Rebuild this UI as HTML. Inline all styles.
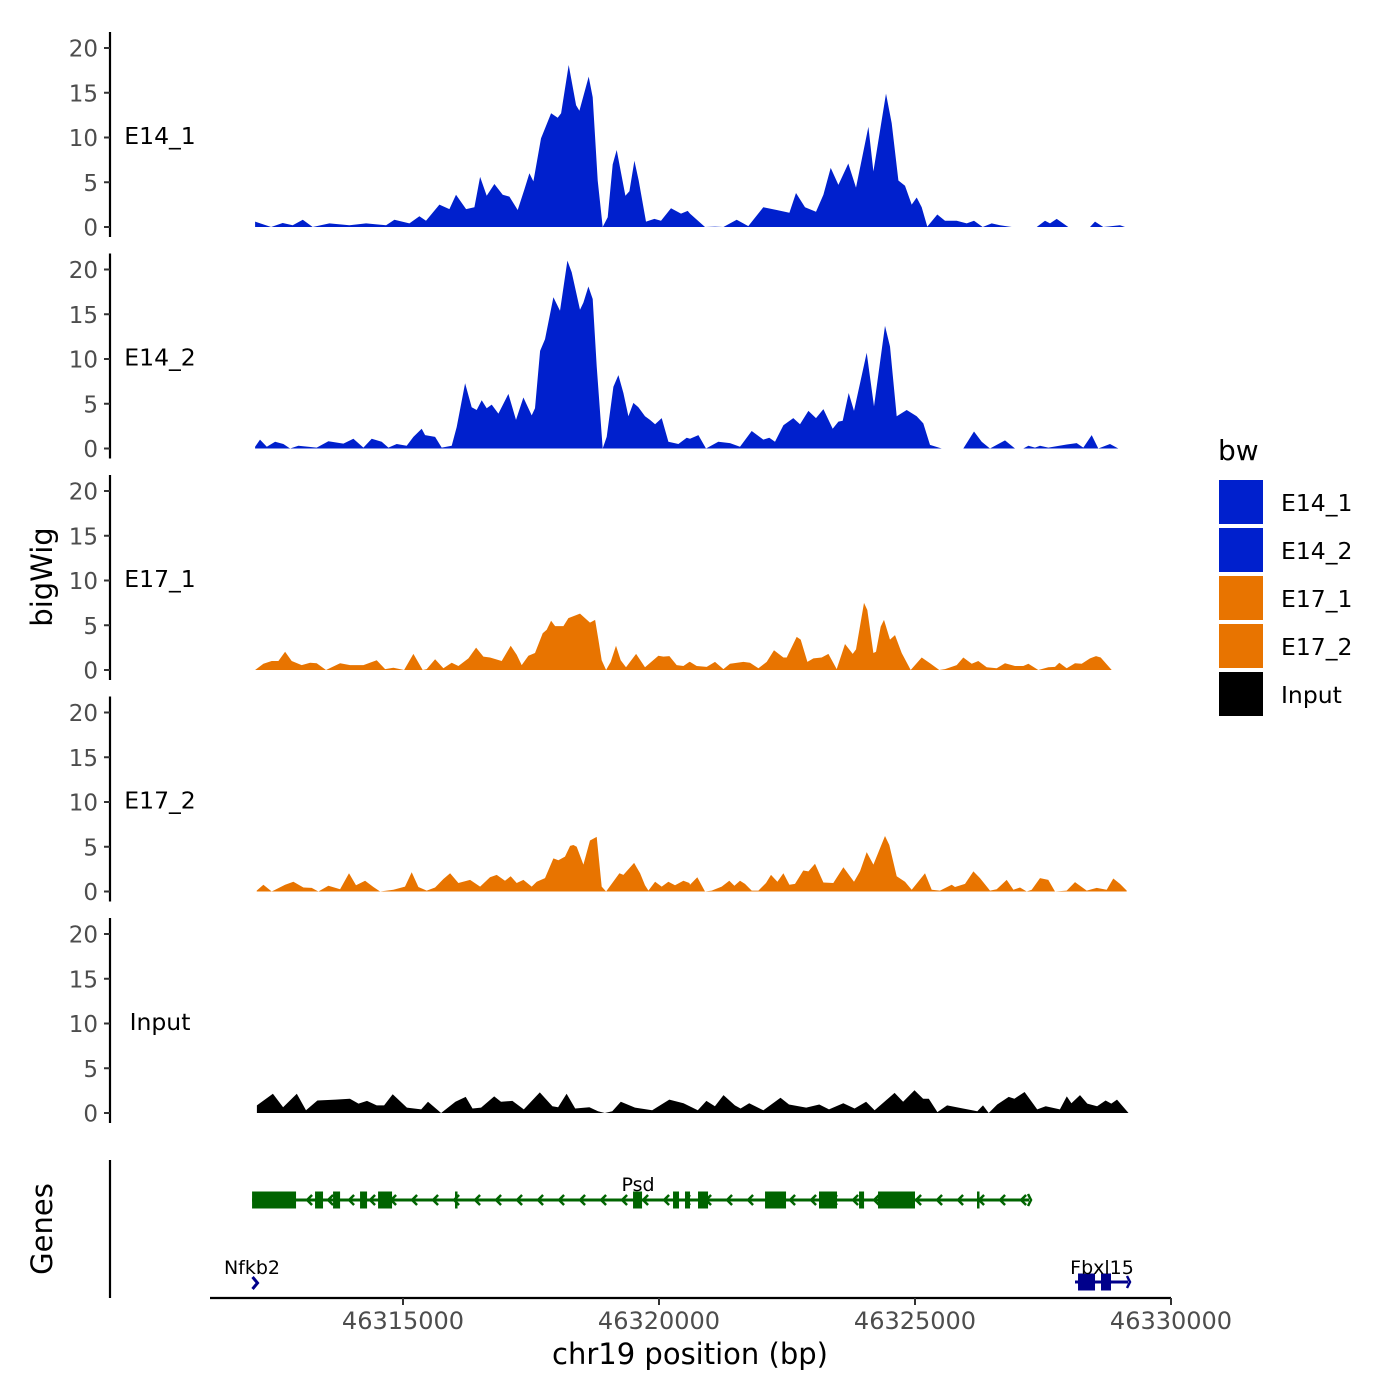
<!DOCTYPE html>
<html><head><meta charset="utf-8"><title>bigWig tracks chr19</title>
<style>
html,body{margin:0;padding:0;background:#fff;}
svg{display:block;font-family:"DejaVu Sans","Liberation Sans",sans-serif;}
</style></head>
<body>
<svg id="chart" width="1400" height="1400" viewBox="0 0 1400 1400" xmlns="http://www.w3.org/2000/svg">
<rect x="0" y="0" width="1400" height="1400" fill="#fff"/>
<g id="tracks"></g>
<g id="genes"></g>
<g id="xaxis"></g>
<text x="0" y="0" transform="translate(52,577) rotate(-90)" text-anchor="middle" font-size="29" fill="#000">bigWig</text>
<text x="0" y="0" transform="translate(52,1229) rotate(-90)" text-anchor="middle" font-size="29" fill="#000">Genes</text>
<text x="690" y="1364" text-anchor="middle" font-size="29" fill="#000">chr19 position (bp)</text>
<g id="legend"></g>
</svg>
<script>
// ---- data ----
const REGION_START = 46312000;
const trackNames = ["E14_1","E14_2","E17_1","E17_2","Input"];
const trackColors = ["#0020CD","#0020CD","#E87400","#E87400","#000000"];
const yTicks = [0,5,10,15,20];
const xTicks = [46315000,46320000,46325000,46330000];

const posE14_1 = [111,423,651,846,1042,1237,1562,1953,2279,2669,2832,3125,3320,3450,3711,3906,4036,4232,4394,4505,4635,4785,4948,5078,5241,5371,5468,5547,5696,5892,6022,6087,6237,6380,6445,6627,6705,6803,6901,6998,7096,7174,7343,7421,7519,7604,7747,7910,8040,8235,8430,8561,
8606,8899,9094,9257,9517,9745,10038,10299,10546,10676,10852,11067,11210,11353,11503,11698,11848,12089,12187,12434,12545,12675,12805,12935,13033,13130,13241,13436,13586,13814,14009,14153,14322,14498,14660,14888,15376,15539,15637,15767,15995,16418,16516,16678,17004,17102];
const valE14_1 = [0.6,0,0.45,0.2,0.8,0,0.4,0.2,0.4,0.2,0.8,0.4,1.2,0.7,2.5,2.0,3.6,2.0,2.2,5.6,3.5,4.8,3.6,3.4,1.9,4.2,6.0,5.1,9.9,12.7,12.2,12.7,18.1,13.6,13.0,16.8,14.5,5.2,0,1.1,7.0,8.6,3.5,4.0,7.4,5.2,0.6,0.9,0.7,2.1,1.5,1.8,
1.5,0,0.05,0,0.8,0.1,2.2,1.9,1.6,3.8,2.2,1.7,3.6,6.6,4.7,7.1,4.4,11.2,6.2,14.9,11.6,5.2,4.6,2.5,3.3,2.2,0.05,1.4,0.7,0.7,0.4,0.7,0,0.4,0.2,0,0,0.7,0.4,0.9,0,0,0.6,0,0.2,0];

const posE14_2 = [111,208,339,501,664,794,957,1315,1543,1836,2031,2226,2389,2584,2715,2877,3073,3203,3366,3431,3626,3756,3952,4049,4212,4342,4440,4537,4635,4733,4863,5058,5208,5351,5514,5579,5677,5774,5937,6067,6211,6295,6458,6523,6621,6705,6783,6901,6979,7109,7207,7304,7402,7500,7597,7727,7825,7923,8053,8183,8378,8541,
8606,8769,8918,9159,9387,9583,9810,10038,10155,10266,10429,10624,10754,10917,11067,11210,11392,11503,11588,11705,11809,12056,12200,12414,12512,12642,12838,13033,13163,13293,13521,13944,14153,14303,14465,14758,14953,15116,15214,15344,15442,15604,15962,16158,16288,16451,16581,16809,16971];
const valE14_2 = [0.2,1.0,0.2,0.75,0.5,0,0.3,0.1,0.8,0.55,1.1,0.1,1.1,0.75,0.1,0.5,0.3,1.3,2.2,1.5,1.3,0.1,0.3,2.4,7.3,4.6,4.3,5.4,4.5,4.9,3.9,6.1,3.2,5.7,3.7,4.5,10.9,12.2,16.9,15.4,21.0,19.7,15.5,16.3,18.1,16.7,9.2,0,1.3,6.9,8.2,6.2,3.6,5.1,4.6,3.6,3.2,2.7,3.4,0.75,0.5,1.2,
1.1,1.5,0,0.75,0.6,0.2,1.95,1.0,1.2,0.75,2.6,3.4,2.7,4.2,3.4,4.4,2.2,3.0,3.1,6.2,4.2,10.7,4.7,13.7,11.4,3.6,4.3,3.6,2.8,0.4,0,0,1.9,0.75,0,0.9,0,0,0.3,0.1,0.3,0.1,0.45,0.6,0.1,1.5,0,0.5,0];

const posE17_1 = [111,273,436,566,697,827,1022,1185,1315,1497,1771,1966,2226,2487,2650,2812,3021,3203,3385,3463,3626,3789,3952,4082,4277,4427,4570,4700,4928,5104,5221,5319,5449,5579,5729,5807,5892,5970,6132,6230,6458,6653,6751,6816,6881,6966,7057,7161,7252,7356,7552,7727,7988,8085,8203,8346,8476,8593,
8606,8736,8932,9094,9257,9387,9648,9778,9941,10103,10247,10429,10494,10689,10767,10898,11015,11177,11308,11470,11633,11783,11848,12004,12069,12187,12239,12330,12395,12512,12610,12740,12916,13130,13293,13475,13586,13814,13944,14107,14237,14400,14595,14758,14953,15116,15214,15409,15604,15734,15819,15962,16125,16255,16418,16535,16626,16841];
const valE17_1 = [0,0.7,1.0,1.0,2.05,1.0,0.55,0.8,0.75,0,0.75,0.55,0.55,1.1,0.1,0.25,0,1.8,0,0.1,1.2,0.2,0.8,0.45,1.3,2.5,1.5,1.4,1.0,2.7,1.7,0.55,1.6,1.9,4.1,4.5,5.5,4.9,4.9,5.8,6.3,5.3,5.6,3.4,1.1,0,0.9,2.7,1.1,0.3,1.8,0.3,1.6,1.5,1.55,0.55,0.45,0.9,
0.9,0.45,0.35,0.9,0.1,0.7,0.9,0.8,0.2,0.9,2.2,1.4,1.4,3.7,3.4,0.9,1.3,1.4,1.8,0.1,2.9,1.8,2.3,7.5,6.7,1.9,2.05,4.85,5.6,3.4,3.9,1.9,0,1.4,0.75,0,0.1,0.55,1.4,0.7,1.0,0.3,0.2,0.75,0.45,0.45,0.7,0,0.3,0.35,0.8,0.2,0.75,0.7,1.3,1.55,1.4,0];

const posE17_2 = [143,273,436,697,859,1055,1217,1348,1543,1771,1946,2083,2259,2422,2552,2812,3040,3170,3301,3463,3626,3789,3919,4082,4310,4505,4700,4830,4993,5104,5221,5351,5514,5612,5774,5937,6035,6165,6263,6328,6393,6523,6653,6783,6881,6966,7226,7304,7513,7630,7727,7792,7923,8053,8183,8313,8476,8593,
8606,8749,8899,9029,9224,9374,9472,9583,9680,9810,9941,10090,10188,10312,10429,10546,10657,10819,10917,11047,11210,11405,11601,11809,11926,12056,12187,12414,12499,12642,12805,12935,13196,13326,13489,13716,13781,13977,14140,14270,14465,14595,14791,14921,15051,15181,15279,15442,15604,15734,15962,16125,16353,16548,16744,16874,17004,17134];
const valE17_2 = [0.1,0.75,0,0.75,1.1,0.45,0.4,0,0.65,0.25,2.05,0.7,1.2,0.5,0,0.2,0.55,2.15,0.5,0.1,0.45,1.4,2.05,0.95,1.3,0.55,1.6,1.85,1.2,1.7,0.95,1.3,0.55,1.1,1.5,3.7,3.5,3.9,5.1,5.2,5.0,3.0,5.7,6.1,0.55,0,2.05,1.85,3.2,2.05,0.7,0.1,1.1,0.55,1.1,0.7,1.2,0.95,
0.75,1.6,0,0.1,0.55,1.2,0.65,1.2,0.85,0.1,0.1,0.95,1.85,1.1,2.05,0.75,0.85,2.35,2.25,3.1,1.0,0.95,2.7,1.1,2.25,4.4,3.0,6.2,5.2,1.7,1.1,0.2,2.05,0.2,0.1,0.75,0.5,0.85,2.25,1.5,0.1,0.25,1.3,0.2,0.45,0,0.2,1.5,1.3,0,0.1,1.05,0.1,0.4,0.2,1.45,0.85,0.1];

const posInput = [147,459,659,926,1105,1328,1684,1963,2130,2297,2486,2631,2798,3077,3355,3489,3745,4023,4224,4358,4525,4781,4915,5137,5360,5672,5917,6029,6196,6363,6641,6808,6942,7087,7254,7532,7867,8201,8479,8758,8925,9092,9259,9482,9593,9761,10039,10373,10540,10875,11130,11320,11599,11821,12044,12211,12601,12768,12991,13158,13270,13437,13626,13938,14216,14328,14439,14606,14830,14941,15141,15386,15553,15831,15965,16054,16222,16366,16556,16723,16834,16946,17169];
const valInput = [0.85,2.15,0.65,2.15,0.3,1.4,1.5,1.6,1.05,1.35,0.85,0.85,2.1,0.6,0.4,1.25,0,1.25,1.8,0.5,0.6,1.85,1.25,1.35,0.4,2.3,0.75,0.65,2.15,0.5,0.65,0.2,0,0.2,1.25,0.6,0.3,1.5,1.1,0.3,1.35,0.75,2.0,0.85,0.5,1.1,0.3,1.7,0.95,0.6,0.95,0.4,1.1,0.5,1.25,0.3,2.25,1.25,2.55,1.6,1.6,0.1,0.85,0.5,0.2,0.85,0,0.95,1.8,1.6,2.35,0.4,0.75,0.4,1.85,1.1,2.0,1.05,0.75,1.4,1.05,1.5,0];

// genes (bp)
const psdStart = 46312052, psdEnd = 46327227;
const psdExonStarts = [46312052,46313282,46313634,46314161,46314513,46316016,46319493,46320274,46320508,46320762,46322071,46323125,46323907,46324278,46326211];
const psdExonEnds   = [46312911,46313438,46313771,46314298,46314786,46316055,46319669,46320391,46320606,46320958,46322481,46323477,46324005,46325000,46326250];
const fbxStart = 46328125, fbxEnd = 46329160;
const fbxExonStarts = [46328184,46328633];
const fbxExonEnds = [46328516,46328828];
const nfkbPos = 46312100;

// ---- scales ----
const NS = "http://www.w3.org/2000/svg";
function xScale(bp){ return 403 + (bp - 46315000) * 0.0512; }
const PANEL_STEP = 221.5, ZERO0 = 227, PX_PER_UNIT = 8.95;
function yScale(i, v){ return ZERO0 + i*PANEL_STEP - v*PX_PER_UNIT; }
function mk(tag, attrs, parent){ const e=document.createElementNS(NS,tag); for(const k in attrs) e.setAttribute(k,attrs[k]); parent.appendChild(e); return e; }

const posArr = [posE14_1,posE14_2,posE17_1,posE17_2,posInput];
const valArr = [valE14_1,valE14_2,valE17_1,valE17_2,valInput];
const tracks = document.getElementById('tracks');
trackNames.forEach((name,i)=>{
  const g = mk('g',{},tracks);
  
  
  const ax = mk('line',{x1:110,x2:110,y1:32+i*PANEL_STEP,y2:237+i*PANEL_STEP,stroke:'#000','stroke-width':2.2},g);
  
  
  yTicks.forEach(t=>{
    const y = yScale(i,t);
    const tk = mk('line',{x1:104,x2:110,y1:y,y2:y,stroke:'#333','stroke-width':2},g);
    
    
    const tl = mk('text',{x:98,y:y+8.5,'text-anchor':'end','font-size':23,fill:'#4d4d4d'},g);
    tl.textContent = t;
    
    
  });
  const lbl = mk('text',{x:160,y:144+i*PANEL_STEP,'text-anchor':'middle','font-size':23.5,fill:'#000'},g);
  lbl.textContent = name;
  
  
  const P = posArr[i], V = valArr[i];
  let d = 'M' + xScale(REGION_START+P[0]).toFixed(1) + ',' + yScale(i,0);
  for(let k=0;k<P.length;k++) d += 'L' + xScale(REGION_START+P[k]).toFixed(1) + ',' + yScale(i,V[k]).toFixed(1);
  d += 'L' + xScale(REGION_START+P[P.length-1]).toFixed(1) + ',' + yScale(i,0) + 'Z';
  const area = mk('path',{d:d,fill:trackColors[i]},g);
  
  
});

// genes
const gg = document.getElementById('genes');
const gax = mk('line',{x1:110,x2:110,y1:1160,y2:1298,stroke:'#000','stroke-width':2.2},gg);


function drawGene(name, s, e, es, ee, y, color, dir, h){
  const g = mk('g',{},gg);
  
  
  mk('line',{x1:xScale(s),x2:xScale(e),y1:y,y2:y,stroke:color,'stroke-width':3},g);
  const x0 = xScale(s), x1 = xScale(e);
  for(let x=x0+14; x<x1-4; x+=21){
    const a = dir<0 ? `M${x+4},${y-5}L${x-1},${y}L${x+4},${y+5}` : `M${x-4},${y-5}L${x+1},${y}L${x-4},${y+5}`;
    mk('path',{d:a,stroke:color,'stroke-width':2.5,fill:'none'},g);
  }
  mk('path',{d:`M${x1-1},${y-6}L${x1+2},${y}L${x1-1},${y+6}`,stroke:color,'stroke-width':2.5,fill:'none'},g);
  for(let k=0;k<es.length;k++){
    const xa = xScale(es[k]), xb = xScale(ee[k]);
    const r = mk('rect',{x:xa,y:y-h/2,width:Math.max(2.5,xb-xa),height:h,fill:color},g);
    
    
  }
}
drawGene('Psd', psdStart, psdEnd, psdExonStarts, psdExonEnds, 1200, '#006400', -1, 17);
drawGene('Fbxl15', fbxStart, fbxEnd, fbxExonStarts, fbxExonEnds, 1282, '#00008B', 1, 17);
const nf = mk('path',{d:`M${xScale(nfkbPos)-2},${1277}L${xScale(nfkbPos)+3},${1283}L${xScale(nfkbPos)-2},${1289}`,stroke:'#00008B','stroke-width':3,fill:'none'},gg);


[['Psd',638,1191],['Nfkb2',252,1274],['Fbxl15',1102,1274]].forEach(t=>{
  const tx = mk('text',{x:t[1],y:t[2],'text-anchor':'middle','font-size':19,fill:'#000'},gg);
  tx.textContent = t[0];
  
  
});

// x axis
const xa = document.getElementById('xaxis');
const xl = mk('line',{x1:210,x2:1171,y1:1298,y2:1298,stroke:'#000','stroke-width':2.2},xa);


xTicks.forEach(t=>{
  const x = xScale(t);
  const tk = mk('line',{x1:x,x2:x,y1:1298,y2:1305,stroke:'#333','stroke-width':2},xa);
  
  
  const tl = mk('text',{x:x,y:1329,'text-anchor':'middle','font-size':24,fill:'#4d4d4d'},xa);
  tl.textContent = t;
  
  
});

// legend
const lg = document.getElementById('legend');
const lt = mk('text',{x:1218,y:460,'font-size':28,fill:'#000'},lg);
lt.textContent = 'bw';


trackNames.forEach((name,i)=>{
  const g = mk('g',{},lg);
  
  
  mk('rect',{x:1219,y:480+i*48,width:44,height:44,fill:trackColors[i]},g);
  const t = mk('text',{x:1281,y:511+i*48,'font-size':23.5,fill:'#000'},g);
  t.textContent = name;
});
</script>
</body></html>
